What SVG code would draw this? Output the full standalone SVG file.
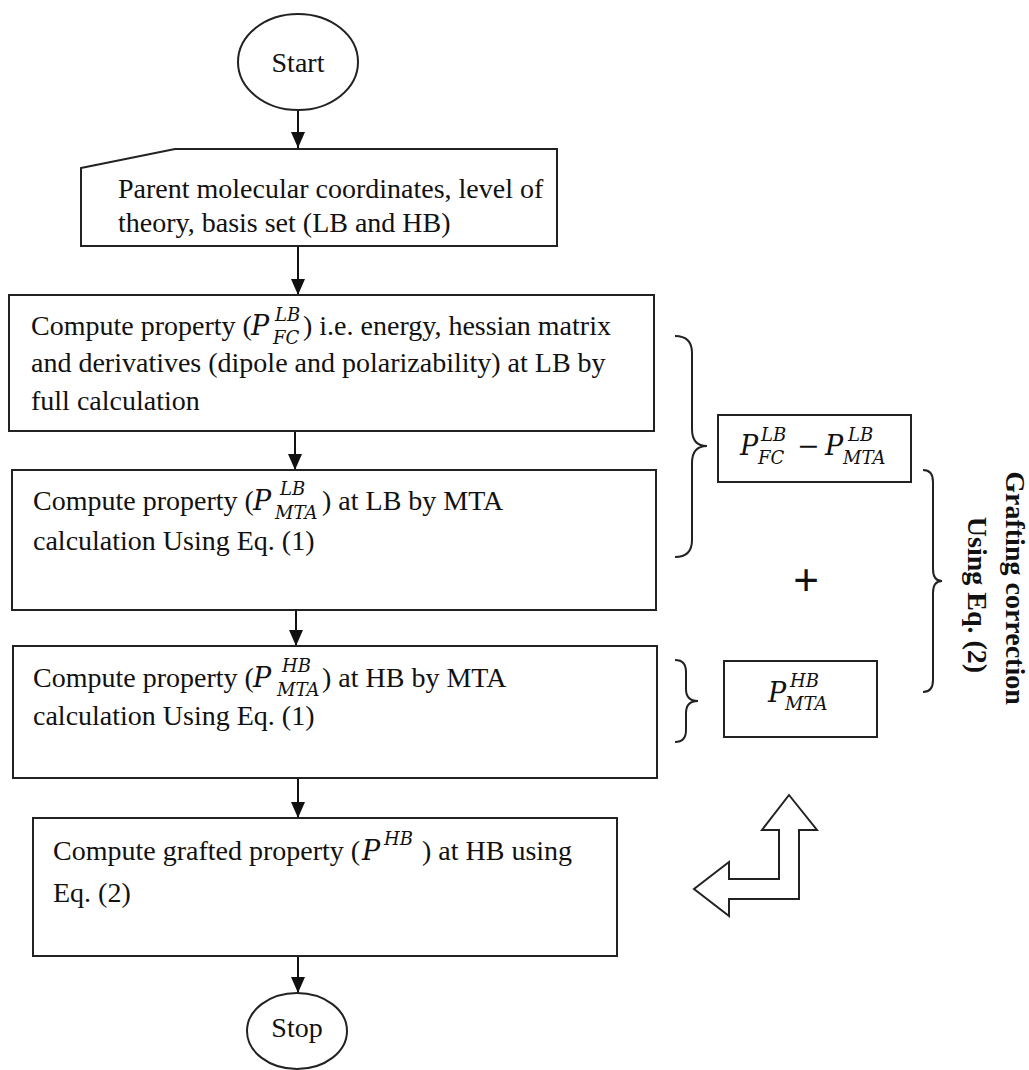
<svg xmlns="http://www.w3.org/2000/svg" width="1029" height="1070" viewBox="0 0 1029 1070">
<style>
.shape{fill:#fff;stroke:#222;stroke-width:2}
.brace{fill:none;stroke:#222;stroke-width:2}
.t{font-family:"Liberation Serif","Times New Roman",serif;font-size:28px;fill:#111}
.b{font-weight:bold}
.m{font-family:"DejaVu Serif","Liberation Serif",serif;font-style:italic;font-size:27px;fill:#111}
.s{font-size:18px}
.r{font-family:"DejaVu Serif","Liberation Serif",serif;font-style:normal;font-size:27px}
.plus{font-family:"Liberation Sans",Arial,sans-serif;font-size:44px;fill:#111}
.conn{stroke:#111;stroke-width:2;fill:none}
</style>
<defs>
<marker id="ah" markerUnits="userSpaceOnUse" markerWidth="16" markerHeight="14" refX="16" refY="7" orient="auto">
<path d="M0,0 L16,7 L0,14 z" fill="#111"/>
</marker>
</defs>
<rect width="1029" height="1070" fill="#fff"/>

<g id="connectors">
<line class="conn" x1="298" y1="110" x2="298" y2="148" marker-end="url(#ah)"/>
<line class="conn" x1="298" y1="246" x2="298" y2="295" marker-end="url(#ah)"/>
<line class="conn" x1="295" y1="431" x2="295" y2="470" marker-end="url(#ah)"/>
<line class="conn" x1="296" y1="610" x2="296" y2="646" marker-end="url(#ah)"/>
<line class="conn" x1="298" y1="778" x2="298" y2="818" marker-end="url(#ah)"/>
<line class="conn" x1="298" y1="956" x2="298" y2="993" marker-end="url(#ah)"/>
</g>

<g id="start">
<ellipse class="shape" cx="298" cy="62" rx="60" ry="48"/>
<text class="t" x="298" y="72" text-anchor="middle">Start</text>
</g>

<g id="input">
<polygon class="shape" points="81,168 175,149 557,149 557,246 81,246"/>
<text class="t" x="118" y="198">Parent molecular coordinates, level of</text>
<text class="t" x="118" y="232">theory, basis set (LB and HB)</text>
</g>

<g id="full-calc">
<rect class="shape" x="9" y="295" width="645" height="136"/>
<text class="t" x="31" y="335">Compute property (<tspan class="m" x="251" y="335">P</tspan><tspan class="m s" x="275" y="321">LB</tspan><tspan class="m s" x="273" y="344">FC</tspan><tspan x="303" y="335">) i.e. energy, hessian matrix</tspan></text>
<text class="t" x="31" y="372">and derivatives (dipole and polarizability) at LB by</text>
<text class="t" x="31" y="410">full calculation</text>
</g>

<g id="mta-lb">
<rect class="shape" x="12" y="470" width="644" height="140"/>
<text class="t" x="33" y="510">Compute property (<tspan class="m" x="253" y="510">P</tspan><tspan class="m s" x="280" y="495">LB</tspan><tspan class="m s" x="275" y="519">MTA</tspan><tspan x="322" y="510">) at LB by MTA</tspan></text>
<text class="t" x="33" y="550">calculation Using Eq. (1)</text>
</g>

<g id="mta-hb">
<rect class="shape" x="13" y="646" width="644" height="132"/>
<text class="t" x="33" y="687">Compute property (<tspan class="m" x="253" y="687">P</tspan><tspan class="m s" x="282" y="672">HB</tspan><tspan class="m s" x="277" y="696">MTA</tspan><tspan x="322" y="687">) at HB by MTA</tspan></text>
<text class="t" x="33" y="725">calculation Using Eq. (1)</text>
</g>

<g id="grafted">
<rect class="shape" x="33" y="818" width="584" height="138"/>
<text class="t" x="53" y="860">Compute grafted property (<tspan class="m" x="362" y="860">P</tspan><tspan class="m s" x="384" y="845">HB</tspan><tspan x="422" y="860">) at HB using</tspan></text>
<text class="t" x="53" y="902">Eq. (2)</text>
</g>

<g id="stop">
<ellipse class="shape" cx="297" cy="1031" rx="50" ry="38"/>
<text class="t" x="297" y="1037" text-anchor="middle">Stop</text>
</g>

<g id="brace-lb">
<path class="brace" d="M675,336 Q692,336 692,353 L692,429 Q692,446 707,446 Q692,446 692,463 L692,540 Q692,557 675,557"/>
</g>

<g id="diff">
<rect class="shape" x="718" y="415" width="193" height="67"/>
<text class="m" x="740" y="455">P<tspan class="s" x="761" y="441">LB</tspan><tspan class="s" x="758" y="464">FC</tspan><tspan class="r" x="797" y="455">−</tspan><tspan x="825" y="455">P</tspan><tspan class="s" x="848" y="441">LB</tspan><tspan class="s" x="843" y="464">MTA</tspan></text>
</g>

<g id="plus">
<text class="plus" x="806" y="595" text-anchor="middle">+</text>
</g>

<g id="brace-hb">
<path class="brace" d="M675,660 Q686,660 686,672 L686,689 Q686,701 698,701 Q686,701 686,713 L686,730 Q686,742 675,742"/>
</g>

<g id="p-hb">
<rect class="shape" x="724" y="661" width="153" height="76"/>
<text class="m" x="768" y="702">P<tspan class="s" x="790" y="687">HB</tspan><tspan class="s" x="785" y="710">MTA</tspan></text>
</g>

<g id="brace-graft">
<path class="brace" d="M923,470 Q933,470 933,482 L933,569 Q933,581 942,581 Q933,581 933,593 L933,680 Q933,692 923,692"/>
</g>

<g id="graft-label">
<text class="t b" transform="translate(1006,588) rotate(90)" text-anchor="middle">Grafting correction</text>
<text class="t b" transform="translate(968,595) rotate(90)" text-anchor="middle">Using Eq. (2)</text>
</g>

<g id="bent-arrow">
<polygon class="shape" points="789,795 817,830 799,830 799,899 729,899 729,916 694,889 729,862 729,879 779,879 779,830 762,830"/>
</g>
</svg>
